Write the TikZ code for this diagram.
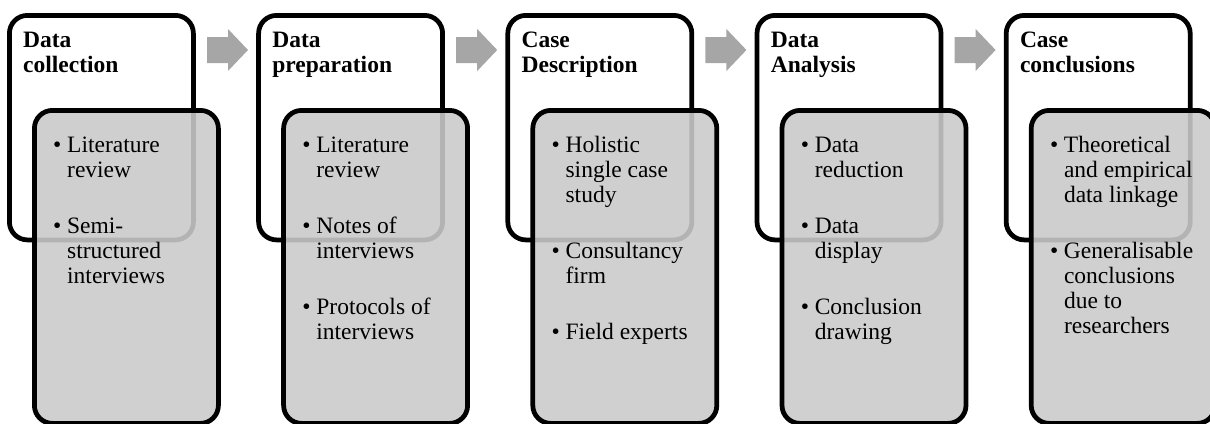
\documentclass[tikz,border=0pt]{standalone}
\usepackage{fontspec}
\setmainfont{Liberation Serif}

\definecolor{panelgray}{RGB}{202,202,202}
\definecolor{arrowgray}{RGB}{166,166,166}

% bullet with hanging indent
\newcommand\bitem{\makebox[14pt][l]{\textbullet}}
\newcommand\cont{\hspace*{14pt}}
\newcommand\itemgap{\\[31pt]}

\tikzset{
  stagebox/.style={draw=black, line width=4.75pt, rounded corners=18pt,
    fill=white, minimum width=184pt, minimum height=224.5pt,
    anchor=north west, inner sep=0pt, outer sep=0pt},
  detailbox/.style={draw=black, line width=4.75pt, rounded corners=18pt,
    fill=panelgray, fill opacity=0.89, draw opacity=1,
    minimum width=184pt, minimum height=313pt,
    anchor=north west, inner sep=0pt, outer sep=0pt},
  itemtext/.style={anchor=base west, inner sep=0pt},
  flowarrow/.style={fill=arrowgray, draw=none}
}

\newcommand\stagelist[1]{\parbox[t]{175pt}{\raggedright\fontsize{23.5}{25}\selectfont #1}}
\newcommand\titlelines[1]{\parbox[t]{175pt}{\raggedright\bfseries\fontsize{23.5}{25}\selectfont #1}}

\begin{document}
\begin{tikzpicture}[x=1pt,y=-1pt]
  \useasboundingbox (0,0) rectangle (1210,423);
  \clip (0,0) rectangle (1210,423);

  % five stages: white title box with a grey detail box overlapping it
  \foreach \i/\title/\items in {
    0/{Data\\collection}/{\bitem Literature\\\cont review\itemgap
        \bitem Semi-\\\cont structured\\\cont interviews},
    1/{Data\\preparation}/{\bitem Literature\\\cont review\itemgap
        \bitem Notes of\\\cont interviews\itemgap
        \bitem Protocols of\\\cont interviews},
    2/{Case\\Description}/{\bitem Holistic\\\cont single case\\\cont study\itemgap
        \bitem Consultancy\\\cont firm\itemgap
        \bitem Field experts},
    3/{Data\\Analysis}/{\bitem Data\\\cont reduction\itemgap
        \bitem Data\\\cont display\itemgap
        \bitem Conclusion\\\cont drawing},
    4/{Case\\conclusions}/{\bitem Theoretical\\\cont and empirical\\\cont data linkage\itemgap
        \bitem Generalisable\\\cont conclusions\\\cont due to\\\cont researchers}%
  }{
    \pgfmathsetmacro\ox{249.2*\i}
    \node[stagebox] (stage\i) at ({9.4+\ox},15.4) {};
    \node[anchor=base west, inner sep=0pt] (title\i) at ({23+\ox},47) {\titlelines{\title}};
    \node[detailbox] (detail\i) at ({34.4+\ox},110.4) {};
    \node[itemtext] (list\i) at ({53+\ox},152) {\stagelist{\items}};
  }

  % block arrows between consecutive stages
  \foreach \i in {0,1,2,3}{
    \pgfmathsetmacro\ax{207+249.2*\i}
    \fill[flowarrow] (\ax,37) -- ({\ax+21},37) -- ({\ax+21},29) -- ({\ax+41},50)
      -- ({\ax+21},71) -- ({\ax+21},63) -- (\ax,63) -- cycle;
  }
\end{tikzpicture}
\end{document}
